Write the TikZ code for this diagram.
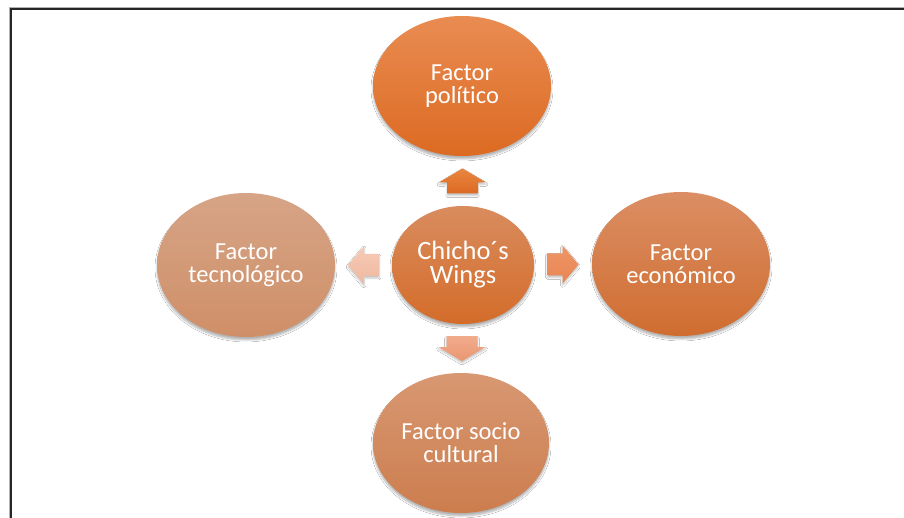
\documentclass[tikz,border=0pt]{standalone}
\usepackage{fontspec}
\setmainfont{Carlito}[Ligatures=NoCommon]
\usetikzlibrary{shapes.geometric,calc,shadows.blur}
\definecolor{polTop}{HTML}{E98C52}
\definecolor{polBot}{HTML}{DC6A22}
\definecolor{cenTop}{HTML}{D98C5E}
\definecolor{cenBot}{HTML}{D46C2A}
\definecolor{ecoTop}{HTML}{DB8E64}
\definecolor{ecoBot}{HTML}{D06D30}
\definecolor{tecTop}{HTML}{D6A486}
\definecolor{tecBot}{HTML}{CF8F68}
\definecolor{socTop}{HTML}{D89872}
\definecolor{socBot}{HTML}{CC7D4E}
\definecolor{upTop}{HTML}{E98640}
\definecolor{upBot}{HTML}{DC6A22}
\definecolor{rtTop}{HTML}{EE9566}
\definecolor{rtBot}{HTML}{E88654}
\definecolor{dnTop}{HTML}{F1AC8C}
\definecolor{dnBot}{HTML}{EA9670}
\definecolor{lfTop}{HTML}{F6CBB8}
\definecolor{lfBot}{HTML}{F0B89E}
\begin{document}
\begin{tikzpicture}[x=1pt,y=-1pt,
  bubble/.style={ellipse, inner sep=0pt, text=white, align=center,
    font=\fontsize{24.5}{23}\selectfont,
    blur shadow={shadow xshift=0pt, shadow yshift=-3pt, shadow blur steps=6, shadow opacity=30}},
  blockarrow/.style={blur shadow={shadow xshift=0pt, shadow yshift=-2pt, shadow blur steps=4, shadow opacity=25}}
]
\useasboundingbox (0,0) rectangle (904,518);
\fill[white] (0,0) rectangle (904,518);
\draw[line width=0.8pt, black!30] (9,518) -- (9,7.5) -- (904,7.5);
\draw[line width=2pt, black!85] (10.5,518) -- (10.5,9) -- (904,9);

\node[bubble, minimum width=178pt, minimum height=140pt, top color=polTop, bottom color=polBot] (pol) at (462,86) {Factor\\político};
\node[bubble, minimum width=142pt, minimum height=118pt, top color=cenTop, bottom color=cenBot, font=\fontsize{26.5}{24}\selectfont] (cen) at (463,265) {Chicho´s\\Wings};
\node[bubble, minimum width=178pt, minimum height=144pt, top color=ecoTop, bottom color=ecoBot] (eco) at (681,264) {Factor\\económico};
\node[bubble, minimum width=178pt, minimum height=144pt, top color=tecTop, bottom color=tecBot] (tec) at (246,265) {Factor\\tecnológico};
\node[bubble, minimum width=176pt, minimum height=140pt, top color=socTop, bottom color=socBot] (soc) at (461,443) {Factor socio\\cultural};

\coordinate (au) at ($(cen.north)!0.5!(pol.south)$);
\coordinate (ad) at ($(cen.south)!0.5!(soc.north)$);
\coordinate (ar) at ($(cen.east)!0.5!(eco.west)$);
\coordinate (al) at ($(cen.west)!0.5!(tec.east)$);

\path[blockarrow, top color=upTop, bottom color=upBot, shift={(au)}]
  (0,-12.5) -- (23.5,1.5) -- (15.5,1.5) -- (15.5,12.5) -- (-15.5,12.5) -- (-15.5,1.5) -- (-23.5,1.5) -- cycle;
\path[blockarrow, top color=dnTop, bottom color=dnBot, shift={(ad)}]
  (0,12.5) -- (23.5,-1.5) -- (15.5,-1.5) -- (15.5,-12.5) -- (-15.5,-12.5) -- (-15.5,-1.5) -- (-23.5,-1.5) -- cycle;
\path[blockarrow, top color=rtTop, bottom color=rtBot, shift={(ar)}]
  (15.5,0) -- (-0.5,-19) -- (-0.5,-11) -- (-15.5,-11) -- (-15.5,11) -- (-0.5,11) -- (-0.5,19) -- cycle;
\path[blockarrow, top color=lfTop, bottom color=lfBot, shift={(al)}]
  (-15.5,0) -- (0.5,-19) -- (0.5,-11) -- (15.5,-11) -- (15.5,11) -- (0.5,11) -- (0.5,19) -- cycle;
\end{tikzpicture}
\end{document}
